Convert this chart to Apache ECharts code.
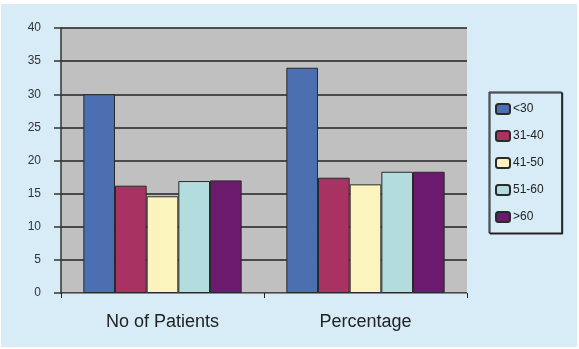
<!DOCTYPE html>
<html>
<head>
<meta charset="utf-8">
<script src="https://cdn.jsdelivr.net/npm/echarts@6/dist/echarts.min.js"></script>
<style>
html,body{margin:0;padding:0;background:#ffffff;}
#c{width:579px;height:349px;}
</style>
</head>
<body>
<div id="c"></div>
<script>
const categories = ['No of Patients', 'Percentage'];
const seriesNames = ['<30', '31-40', '41-50', '51-60', '>60'];
const valuesLt30 = [30, 34];
const values3140 = [16.2, 17.4];
const values4150 = [14.6, 16.4];
const values5160 = [16.9, 18.3];
const valuesGt60 = [17.0, 18.3];
const seriesColors = ['#4b6fb0', '#a83262', '#fcf4bf', '#b2dcdd', '#6c1a6e'];

const allValues = [valuesLt30, values3140, values4150, values5160, valuesGt60];
const bg = '#d8ecf8';

const chart = echarts.init(document.getElementById('c'), null, {renderer: 'canvas'});
chart.setOption({
  backgroundColor: '#ffffff',
  animation: false,
  graphic: [{
    type: 'rect', z: -10, silent: true,
    shape: {x: 1, y: 4, width: 576, height: 343},
    style: {fill: bg}
  }],
  grid: {
    left: 61, right: 112, top: 28, bottom: 56,
    show: true, backgroundColor: '#c0c0c0', borderWidth: 0
  },
  legend: {
    left: 489, top: 92,
    orient: 'vertical',
    itemWidth: 14, itemHeight: 10, itemGap: 13,
    padding: [10, 18, 9, 6],
    borderColor: '#222', borderWidth: 1,
    backgroundColor: bg,
    shadowColor: '#222', shadowOffsetX: 1, shadowOffsetY: 1, shadowBlur: 0,
    textStyle: {fontFamily: 'Liberation Sans', fontSize: 12, color: '#222', lineHeight: 14, padding: [0,0,0,-2]},
    data: seriesNames
  },
  xAxis: {
    type: 'category',
    data: categories,
    axisLine: {lineStyle: {color: '#8a8a8a', width: 1}},
    axisTick: {show: true, length: 5, lineStyle: {color: '#222'}},
    axisLabel: {margin: 20, fontFamily: 'Liberation Sans', fontSize: 18, color: '#222'}
  },
  yAxis: {
    type: 'value',
    min: 0, max: 40, interval: 5,
    axisLine: {show: true, lineStyle: {color: '#333', width: 1.5}},
    axisTick: {show: true, length: 7, lineStyle: {color: '#333', width: 1.5}},
    axisLabel: {margin: 20, fontFamily: 'Liberation Sans', fontSize: 12, color: '#333'},
    splitLine: {show: true, lineStyle: {color: '#222', width: 1.5}}
  },
  series: seriesNames.map((name, i) => ({
    name: name,
    type: 'bar',
    data: allValues[i],
    barGap: '0%',
    barCategoryGap: '22%',
    itemStyle: {color: seriesColors[i], borderColor: '#2a2a2a', borderWidth: 1}
  }))
});
</script>
</body>
</html>
